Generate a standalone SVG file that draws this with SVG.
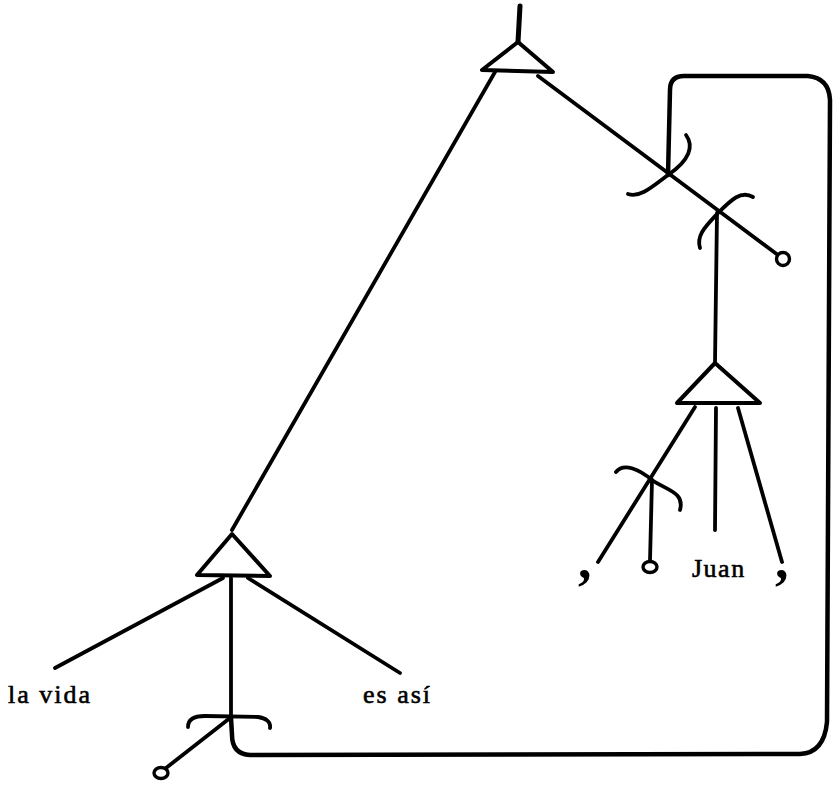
<svg xmlns="http://www.w3.org/2000/svg" width="834" height="788" viewBox="0 0 834 788">
<style>
.ln{stroke:#000;stroke-width:3.8;fill:none;stroke-linecap:round;stroke-linejoin:round}
.tri{stroke:#000;stroke-width:4;fill:#fff;stroke-linejoin:round}
.loop{stroke:#000;stroke-width:4.5;fill:none;stroke-linecap:round;stroke-linejoin:round}
.circ{stroke:#000;stroke-width:3.4;fill:#fff}
.lbl{font-family:"Liberation Serif","DejaVu Serif",serif;font-size:26px;fill:#000;stroke:#000;stroke-width:0.6;letter-spacing:2px}
.cm{font-family:"Liberation Serif","DejaVu Serif",serif;font-size:54px;font-weight:bold;fill:#000}
</style>
<rect width="834" height="788" fill="#fff"/>
<g id="connectors">
  <path class="ln" d="M520 6 L518 42" style="stroke-width:5"/>
  <path class="ln" d="M495 72 L232 530"/>
  <path class="ln" d="M538 76 L778 255"/>
  <path class="ln" d="M717 213 L715 363"/>
  <path class="ln" d="M695 407 L598 562"/>
  <path class="ln" d="M716 408 L715 530"/>
  <path class="ln" d="M738 408 L782 562"/>
  <path class="ln" d="M652 480 L650 561"/>
  <path class="ln" d="M223 578 L55 668"/>
  <path class="ln" d="M248 578 L400 673"/>
  <path class="ln" d="M231 578 L231 718"/>
  <path class="ln" d="M230 718 L166 768"/>
  <path class="loop" d="M668 175 L670 90 Q670 76 684 76 L808 76 Q829 78 830 100 L827 722 Q824 753 800 754 L250 755 Q232 754 232 735 L231 718"/>
</g>
<g id="node-top">
  <path class="tri" d="M518 42 L482 70 L553 72 Z"/>
</g>
<g id="bracket-1">
  <path class="ln" d="M686 135 C694 146 690 160 668 175 C652 187 640 198 628 194"/>
</g>
<g id="bracket-2">
  <path class="ln" d="M753 197 C741 190 731 200 718 213 C706 226 696 235 700 248"/>
</g>
<g id="circle-right">
  <circle class="circ" cx="783" cy="259" r="6.5"/>
</g>
<g id="node-right">
  <path class="tri" d="M715 363 L677 403 L760 403 Z"/>
</g>
<g id="bracket-3">
  <path class="ln" d="M616 472 C624 462 640 470 652 480 C666 490 685 492 680 510"/>
</g>
<g id="circle-mid">
  <ellipse class="circ" cx="650" cy="567" rx="7" ry="5.5"/>
</g>
<g id="node-bottom">
  <path class="tri" d="M232 534 L197 575 L270 576 Z"/>
</g>
<g id="bracket-4">
  <path class="ln" d="M188 727 C188 719 195 716 205 716 L258 717 C266 718 271 722 270 728"/>
</g>
<g id="circle-bottom">
  <ellipse class="circ" cx="161" cy="773" rx="7" ry="5.5"/>
</g>
<g id="labels">
  <text class="lbl" x="8" y="703">la vida</text>
  <text class="lbl" x="363" y="703">es así</text>
  <text class="lbl" x="692" y="577" style="letter-spacing:1.5px">Juan</text>
  <text class="cm" x="578" y="578">,</text>
  <text class="cm" x="775" y="578">,</text>
</g>
</svg>
